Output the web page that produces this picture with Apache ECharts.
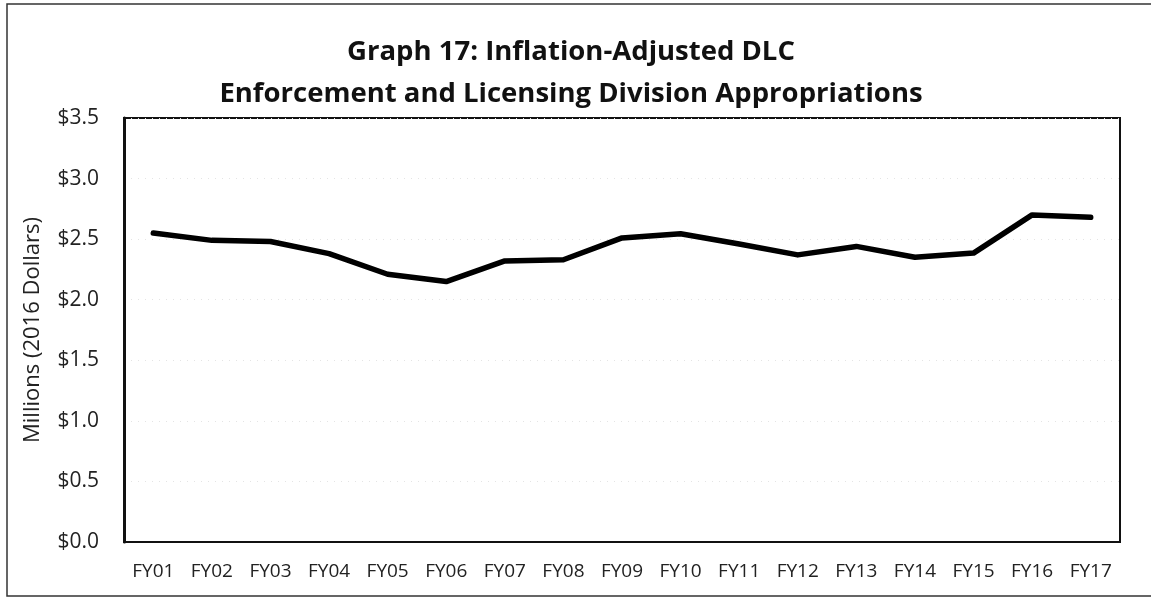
<!DOCTYPE html>
<html>
<head>
<meta charset="utf-8">
<script src="https://cdn.jsdelivr.net/npm/echarts@6/dist/echarts.min.js"></script>
<style>
  html, body { margin: 0; padding: 0; background: #fff; }
  #main { width: 1151px; height: 599px; }
</style>
</head>
<body>
<div id="main"></div>
<script>
var years = ["FY01", "FY02", "FY03", "FY04", "FY05", "FY06", "FY07", "FY08", "FY09",
  "FY10", "FY11", "FY12", "FY13", "FY14", "FY15", "FY16", "FY17"];
// millions of 2016 dollars
var appropriations = [2.55, 2.49, 2.48, 2.38, 2.21, 2.15, 2.32, 2.33, 2.51,
  2.545, 2.46, 2.37, 2.44, 2.35, 2.385, 2.70, 2.68];
var titleLines = ["Graph 17: Inflation-Adjusted DLC", "Enforcement and Licensing Division Appropriations"];
var yName = "Millions (2016 Dollars)";

var myChart = echarts.init(document.getElementById("main"));
var font = "'Open Sans', 'Noto Sans', sans-serif";

var option = {
  animation: false,
  backgroundColor: "#fff",
  textStyle: { fontFamily: font },
  title: {
    text: titleLines.join("\n"),
    left: 566,
    top: 26,
    textAlign: "center",
    textStyle: { fontFamily: font, fontSize: 27.5, fontWeight: "bold", color: "#111", lineHeight: 42 }
  },
  graphic: [
    {
      type: "rect",
      shape: { x: 7, y: 4, width: 1160, height: 592 },
      style: { fill: null, stroke: "#333", lineWidth: 1.5 },
      silent: true
    }
  ],
  grid: {
    left: 124, right: 31, top: 118, bottom: 57,
    show: true, borderColor: "#111", borderWidth: 2
  },
  xAxis: {
    type: "category",
    data: years,
    axisLine: { show: true, lineStyle: { color: "#111", width: 2 } },
    axisTick: { show: false },
    axisLabel: { fontSize: 19, color: "#222", margin: 20, fontFamily: font }
  },
  yAxis: {
    type: "value",
    min: 0, max: 3.5, interval: 0.5,
    name: yName,
    nameLocation: "middle",
    nameGap: 80,
    nameTextStyle: { fontSize: 22, color: "#222", fontFamily: font },
    axisLine: { show: true, lineStyle: { color: "#111", width: 3 } },
    axisTick: { show: false },
    axisLabel: {
      fontSize: 21, color: "#222", margin: 25, fontFamily: font,
      formatter: function (v) { return "$" + v.toFixed(1); }
    },
    splitLine: { show: true, lineStyle: { color: "#e4e4e4", type: [1, 6], width: 1 } }
  },
  series: [
    {
      name: "Appropriations",
      type: "line",
      data: appropriations,
      symbol: "none",
      lineStyle: { color: "#000", width: 5.5, join: "round", cap: "round" }
    }
  ]
};

myChart.setOption(option);
</script>
</body>
</html>
